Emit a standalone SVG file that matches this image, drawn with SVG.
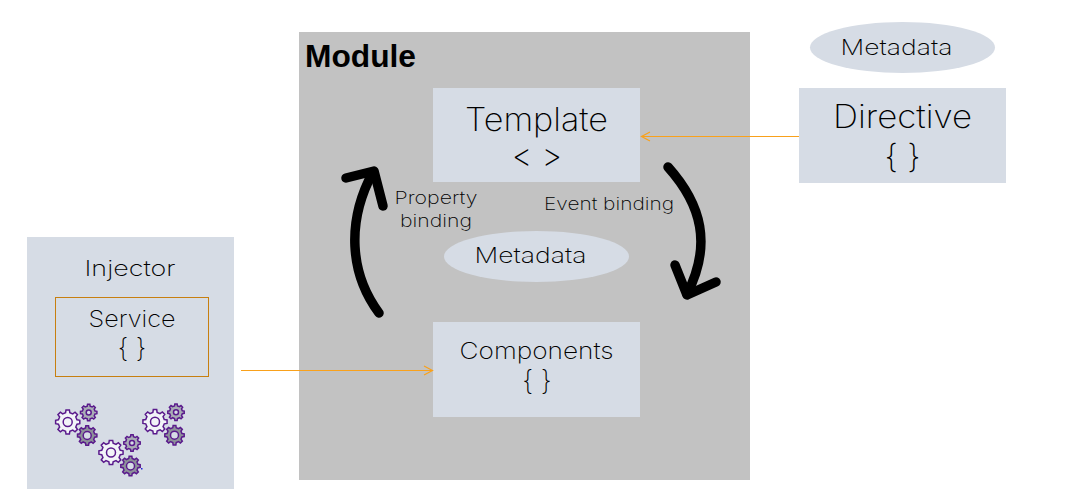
<svg xmlns="http://www.w3.org/2000/svg" width="1070" height="496" viewBox="0 0 1070 496">
<style>
.box{fill:#d6dce5}
.t{font-family:"Inter","Open Sans","Liberation Sans",sans-serif;font-weight:250;fill:#000;text-anchor:middle}
.curve{fill:none;stroke:#000;stroke-width:9.500;stroke-linecap:round;stroke-linejoin:round}
.link{fill:none;stroke:#f9a11b;stroke-width:1.200}
.gp{stroke:#5a1a8c;stroke-width:1.500;vector-effect:non-scaling-stroke}
.w{fill:#f2f4f8}.g{fill:#8d9199}.s{fill:#a9adb5}
.hole{fill:none;stroke:#5a1a8c;stroke-width:1.500}
</style>
<defs>
<path id="gear" class="gp" d="M76-17.500 99-13.900 99 13.900 76 17.500 66.100 41.400 79.800 60.200 60.200 79.800 41.400 66.100 17.500 76 13.900 99-13.900 99-17.500 76-41.400 66.100-60.200 79.800-79.800 60.200-66.100 41.400-76 17.500-99 13.900-99-13.900-76-17.500-66.100-41.400-79.800-60.200-60.200-79.800-41.400-66.100-17.500-76-13.900-99 13.900-99 17.500-76 41.400-66.100 60.200-79.800 79.800-60.200 66.100-41.400Z"/>
<g id="cluster">
<use href="#gear" class="w" transform="scale(.122)"/><circle class="hole" r="4.500"/>
<use href="#gear" class="s" transform="translate(21 -9.500) scale(.083)"/><circle class="hole" cx="21" cy="-9.500" r="2.500" style="fill:#d6dce5"/>
<use href="#gear" class="g" transform="translate(19.500 13.500) scale(.098)"/><circle class="hole" cx="19.500" cy="13.500" r="4" style="fill:#d6dce5"/>
</g>
</defs>
<g id="module"><rect x="299" y="32" width="451" height="448" fill="#c2c2c2"/>
<text x="305" y="66.500" font-family="'Liberation Sans',sans-serif" font-weight="700" font-size="31" fill="#000" textLength="111" lengthAdjust="spacingAndGlyphs">Module</text></g>
<g id="template"><rect class="box" x="433" y="88" width="207" height="94"/>
<text class="t" x="536.500" y="131" font-size="32" textLength="143" lengthAdjust="spacingAndGlyphs">Template</text>
<text class="t" x="537" y="167" font-size="32">&lt; &gt;</text></g>
<g id="directive"><rect class="box" x="799" y="88" width="207" height="95"/>
<text class="t" x="902.500" y="128" font-size="32" textLength="139" lengthAdjust="spacingAndGlyphs">Directive</text>
<text class="t" x="902.500" y="168" font-size="33">{ }</text></g>
<g id="components"><rect class="box" x="433" y="322" width="207" height="95"/>
<text class="t" x="536.500" y="359" font-size="23" textLength="154" lengthAdjust="spacingAndGlyphs">Components</text>
<text class="t" x="537" y="390" font-size="27">{ }</text></g>
<g id="metadata-top"><ellipse class="box" cx="902.500" cy="47.500" rx="92.500" ry="25.500"/>
<text class="t" x="896.500" y="55" font-size="22" textLength="112" lengthAdjust="spacingAndGlyphs">Metadata</text></g>
<g id="metadata-mid"><ellipse class="box" cx="536.500" cy="256.500" rx="92.500" ry="25.500"/>
<text class="t" x="530.500" y="263" font-size="22" textLength="112" lengthAdjust="spacingAndGlyphs">Metadata</text></g>
<g id="injector"><rect class="box" x="27" y="237" width="207" height="252"/>
<text class="t" x="130" y="276" font-size="22" textLength="91" lengthAdjust="spacingAndGlyphs">Injector</text></g>
<g id="service"><rect x="55.500" y="297.500" width="153" height="79" fill="none" stroke="#c77f10" stroke-width="1"/>
<text class="t" x="132" y="327" font-size="22.500" textLength="87" lengthAdjust="spacingAndGlyphs">Service</text>
<text class="t" x="132" y="357" font-size="26">{ }</text></g>
<g id="gears"><use href="#cluster" x="67.700" y="422"/><use href="#cluster" x="111" y="452.500"/><use href="#cluster" x="155" y="421.700"/><rect x="141" y="468" width="1.500" height="1.500" fill="#2222dd"/></g>
<g id="labels">
<text class="t" x="436" y="204" font-size="17.500" textLength="83" lengthAdjust="spacingAndGlyphs">Property</text>
<text class="t" x="436" y="227" font-size="17.500" textLength="72" lengthAdjust="spacingAndGlyphs">binding</text>
<text class="t" x="609" y="210" font-size="17.500" textLength="130" lengthAdjust="spacingAndGlyphs">Event binding</text>
</g>
<g id="connectors">
<path class="curve" d="M379 313C350 274 346 222 373 172"/>
<path class="curve" d="M346 178 374 171 383 206"/>
<path class="curve" d="M668 167C702 205 712 245 687 294"/>
<path class="curve" d="M675 265 687 295 716 282"/>
<path class="link" d="M799 136.500H642M650 132 641.500 136.500 650 141"/>
<path class="link" d="M241 370.500H432M424 366 432.500 370.500 424 375"/>
</g>
</svg>
